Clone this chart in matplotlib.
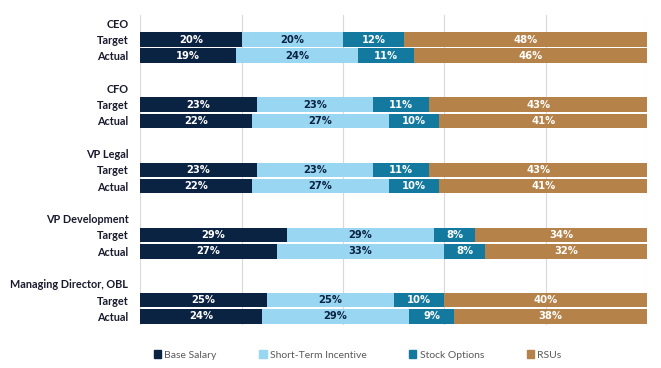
import matplotlib
matplotlib.use("Agg")
import matplotlib.pyplot as plt
from matplotlib.patches import Patch

GROUPS = ["CEO", "CFO", "VP Legal", "VP Development", "Managing Director, OBL"]
ROWS = ["Target", "Actual"]
SERIES = ["Base Salary", "Short-Term Incentive", "Stock Options", "RSUs"]
COLORS = ["#0b2343", "#98d6f2", "#13799f", "#b5834a"]
TEXT_COLORS = ["white", "#0b2343", "white", "white"]

# percent of total pay, one list per series, rows in order CEO T/A, CFO T/A, ...
BASE = [20, 19, 23, 22, 23, 22, 29, 27, 25, 24]
STI = [20, 24, 23, 27, 23, 27, 29, 33, 25, 29]
OPTIONS = [12, 11, 11, 10, 11, 10, 8, 8, 10, 9]
RSUS = [48, 46, 43, 41, 43, 41, 34, 32, 40, 38]


def main():
    fig = plt.figure(figsize=(6.61, 3.68), dpi=100)
    ax = fig.add_axes([0.212, 0.118, 0.767, 0.841])

    # slot layout: group label, Target, Actual, blank
    ypos, labels = [], []
    for g, name in enumerate(GROUPS):
        labels += [name] + ROWS
        ypos += [g * 4, g * 4 + 1, g * 4 + 2]
    bar_y = [g * 4 + r + 1 for g in range(len(GROUPS)) for r in range(2)]

    data = [BASE, STI, OPTIONS, RSUS]
    left = [0] * len(bar_y)
    for vals, color, tc, name in zip(data, COLORS, TEXT_COLORS, SERIES):
        fracs = [v / 100 for v in vals]
        ax.barh(bar_y, fracs, left=left, height=0.9, color=color, label=name, zorder=2)
        for y, l, f, v in zip(bar_y, left, fracs, vals):
            ax.text(l + f / 2, y, f"{v}%", ha="center", va="center", color=tc,
                    fontsize=8, fontweight="bold", family="DejaVu Sans",
                    fontstretch="condensed", zorder=3)
        left = [l + f for l, f in zip(left, fracs)]

    ax.set_xlim(0, 1)
    ax.set_ylim(18.5, -0.5)
    ax.set_xticks([0, 0.2, 0.4, 0.6, 0.8, 1.0])
    ax.xaxis.grid(True, color="#d9d9d9", linewidth=0.8, zorder=0)
    ax.tick_params(axis="x", length=0, labelbottom=False)
    ax.set_yticks(ypos)
    ax.set_yticklabels(labels, fontsize=7.8, fontweight="bold", color="#1a1a2e",
                       family="Lato")
    ax.tick_params(axis="y", length=0, pad=8.5)
    for s in ax.spines.values():
        s.set_visible(False)

    handles = [Patch(color=c, label=n) for c, n in zip(COLORS, SERIES)]
    fig.legend(handles=handles, loc="center", bbox_to_anchor=(0.541, 0.035), ncol=4,
               frameon=False, prop={"family": "Lato", "size": 7.5},
               handlelength=0.7, handleheight=0.7,
               handletextpad=0.3, columnspacing=4.1, labelcolor="#595959")

    fig.savefig("out.png", dpi=100)


if __name__ == "__main__":
    main()
